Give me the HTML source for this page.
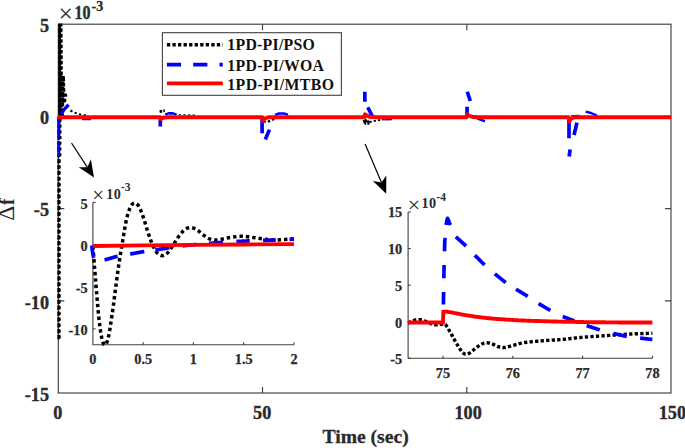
<!DOCTYPE html>
<html><head><meta charset="utf-8"><title>Frequency deviation</title>
<style>html,body{margin:0;padding:0;background:#fff}body{width:685px;height:448px;overflow:hidden}</style></head>
<body>
<svg width="685" height="448" viewBox="0 0 685 448" style="display:block">
<rect width="685" height="448" fill="#fff"/>
<defs><clipPath id="cm"><rect x="57.3" y="23.6" width="614.3" height="370.0"/></clipPath></defs>
<g stroke="#404040" stroke-width="1.15" fill="none">
<rect x="58.3" y="24.2" width="612.7" height="368.8"/>
<path d="M262.5 393.0 v-6 M262.5 24.2 v6"/>
<path d="M466.8 393.0 v-6 M466.8 24.2 v6"/>
<path d="M58.3 116.4 h6 M671.0 116.4 h-6"/>
<path d="M58.3 208.6 h6 M671.0 208.6 h-6"/>
<path d="M58.3 300.8 h6 M671.0 300.8 h-6"/>
</g>
<g clip-path="url(#cm)" fill="none" stroke-linejoin="round">
<clipPath id="cu"><rect x="50" y="20" width="60" height="98.7"/></clipPath>
<path d="M59.7 24.2 V117.2" stroke="#000" stroke-width="2.6"/>
<path d="M58.60 117.20 L58.63 135.84 L58.66 154.61 L58.69 173.25 L58.72 191.52 L58.75 209.38 L58.78 227.45 L58.81 245.14 L58.84 261.65 L58.87 276.18 L58.90 288.70 L58.93 299.65 L58.96 309.05 L58.99 316.94 L59.02 323.33 L59.04 328.13 L59.07 331.44 L59.10 333.34 L59.13 333.91 L59.16 332.95 L59.19 330.56 L59.22 326.94 L59.25 322.28 L59.28 316.64 L59.31 309.54 L59.34 301.25 L59.37 292.08 L59.40 282.36 L59.43 272.42 L59.46 262.38 L59.49 251.66 L59.52 240.43 L59.55 228.94 L59.58 217.45 L59.61 206.22 L59.64 195.35 L59.67 184.43 L59.70 173.56 L59.73 162.88 L59.76 152.56 L59.79 142.75 L59.82 133.60 L59.85 125.00 L59.88 116.55 L59.91 107.83 L59.93 98.70 L59.96 89.47 L59.99 80.44 L60.02 71.92 L60.05 64.22 L60.08 57.52 L60.11 51.53 L60.14 46.17 L60.17 41.40 L60.20 37.17 L60.23 33.45 L60.26 30.24 L60.29 27.63 L60.32 25.60 L60.35 24.09 L60.38 23.05 L60.41 22.44 L60.44 22.19 L60.47 22.28 L60.50 22.75 L60.53 23.63 L60.56 24.93 L60.59 26.61 L60.62 28.68 L60.65 31.13 L60.68 34.10 L60.71 37.54 L60.74 41.34 L60.77 45.38 L60.80 49.54 L60.82 53.71 L60.85 58.11 L60.88 62.78 L60.91 67.62 L60.94 72.53 L60.97 77.42 L61.00 82.18 L61.03 86.72 L61.06 91.05 L61.09 95.36 L61.12 99.61 L61.15 103.75 L61.18 107.72 L61.21 111.48 L61.24 114.96 L61.27 118.12 L61.30 121.02 L61.33 123.69 L61.36 126.14 L61.39 128.35 L61.42 130.33 L61.45 132.07 L61.48 133.56 L61.51 134.80 L61.54 135.78 L61.57 136.52 L61.60 137.04 L61.63 137.35 L61.66 137.48 L61.68 137.41 L61.71 137.11 L61.74 136.60 L61.77 135.90 L61.80 135.01 L61.83 133.96 L61.86 132.77 L61.89 131.44 L61.92 129.86 L61.95 128.05 L61.98 126.05 L62.01 123.91 L62.04 121.67 L62.07 119.38 L62.10 117.08 L62.13 114.83 L62.16 112.64 L62.19 110.38 L62.22 108.05 L62.25 105.67 L62.28 103.28 L62.31 100.92 L62.34 98.62 L62.37 96.42 L62.40 94.34 L62.43 92.41 L62.46 90.55 L62.49 88.74 L62.52 87.01 L62.55 85.36 L62.57 83.81 L62.60 82.38 L62.63 81.09 L62.66 79.95 L62.69 78.97 L62.72 78.12 L62.75 77.41 L62.78 76.82 L62.81 76.36 L62.84 76.02 L62.87 75.81 L62.90 75.71 L62.93 75.76 L62.96 75.97 L62.99 76.32 L63.02 76.80 L63.05 77.37 L63.08 78.03 L63.11 78.76 L63.14 79.53 L63.17 80.33 L63.20 81.21 L63.23 82.22 L63.26 83.33 L63.29 84.51 L63.32 85.75 L63.35 87.01 L63.38 88.28 L63.41 89.52 L63.44 90.71 L63.46 91.83 L63.49 92.87 L63.52 93.92 L63.55 94.96 L63.58 95.99 L63.61 96.99 L63.64 97.94 L63.67 98.83 L63.70 99.63 L63.73 100.34 L63.76 100.94 L63.79 101.46 L63.82 101.89 L63.85 102.26 L63.88 102.56 L63.91 102.79 L63.94 102.98 L63.97 103.12 L64.00 103.21 L64.03 103.23 L64.06 103.16 L64.09 103.04 L64.12 102.86 L64.15 102.64 L64.18 102.39 L64.21 102.13 L64.24 101.86 L64.27 101.61 L64.30 101.37 L64.33 101.10 L64.35 100.81 L64.38 100.49 L64.41 100.16 L64.44 99.82 L64.47 99.48 L64.50 99.14 L64.53 98.80 L64.56 98.49 L64.59 98.19 L64.62 97.92 L64.65 97.67 L64.68 97.43 L64.71 97.20 L64.74 96.97 L64.77 96.75 L64.80 96.53 L64.83 96.33 L64.86 96.14 L64.89 95.96 L64.92 95.80 L64.95 95.64 L64.98 95.51 L65.01 95.39 L65.04 95.29 L65.07 95.20 L65.10 95.14 L65.13 95.09 L65.16 95.07 L65.19 95.07 L65.21 95.10 L65.24 95.16 L65.27 95.24 L65.30 95.35 L65.33 95.48 L65.36 95.63 L65.39 95.80 L65.42 95.98 L65.45 96.17 L65.48 96.37 L65.51 96.57 L65.54 96.78 L65.57 97.00 L65.60 97.21 L65.63 97.41 L65.66 97.61 L65.69 97.80 L65.72 97.99 L65.75 98.18 L65.78 98.39" stroke="#000" stroke-width="3.8" stroke-dasharray="3.4 2.0" clip-path="url(#cu)"/>
<path d="M58.5 120.2 V337.2" stroke="#000" stroke-width="4.8" stroke-linecap="round" stroke-dasharray="0.01 5.85"/>
<path d="M70.40 110.50 L74.00 112.40 L79.00 114.20 L86.50 115.60" stroke="#000" stroke-width="2" stroke-dasharray="2.3 2.4"/>
<path d="M159.60 111.60 L164.80 110.60" stroke="#000" stroke-width="2.6" stroke-dasharray="2.6 1.2"/>
<path d="M165.00 113.60 L180.00 114.80 L196.00 115.20" stroke="#000" stroke-width="1.3" stroke-dasharray="2.2 2.4"/>
<path d="M263.50 121.20 L266.50 122.20 L272.00 120.00 L279.00 116.60" stroke="#000" stroke-width="2.2" stroke-dasharray="2.4 2.2"/>
<path d="M364.40 119.60 L366.00 122.80 L369.50 122.40" stroke="#000" stroke-width="4.2" stroke-dasharray="3.6 1.2"/>
<path d="M369.50 122.00 L376.00 120.60 L386.00 119.20" stroke="#000" stroke-width="1.8" stroke-dasharray="2.3 2"/>
<path d="M571.00 115.60 L579.50 115.30" stroke="#333" stroke-width="1.2"/>
<path d="M58.60 118.00 L58.40 138.60" stroke="#0000ff" stroke-width="4.0"/>
<path d="M58.30 141.20 L58.20 156.20" stroke="#0000ff" stroke-width="4.0"/>
<path d="M60.70 119.00 L60.50 157.00" stroke="#000" stroke-width="1.8" stroke-dasharray="2.8 2.9"/>
<path d="M61.40 113.80 L64.00 109.60 L68.60 104.80" stroke="#0000ff" stroke-width="3.4"/>
<path d="M82.00 119.40 L91.00 119.40" stroke="#0000ff" stroke-width="1.6"/>
<path d="M160.30 117.00 L160.30 126.60" stroke="#0000ff" stroke-width="3.7"/>
<path d="M165.50 114.60 L169.00 113.20 L173.00 113.30 L176.50 114.60" stroke="#0000ff" stroke-width="2.4"/>
<path d="M262.10 118.00 L262.10 133.30" stroke="#0000ff" stroke-width="3.7"/>
<path d="M265.30 139.50 L269.50 129.60" stroke="#0000ff" stroke-width="3.7"/>
<path d="M275.00 114.90 L279.00 113.50 L284.00 113.40 L288.00 114.80" stroke="#0000ff" stroke-width="2.4"/>
<path d="M364.80 91.80 L364.90 101.80" stroke="#0000ff" stroke-width="3.7"/>
<path d="M367.80 107.20 L372.30 116.40" stroke="#0000ff" stroke-width="3.7"/>
<path d="M384.70 119.60 L392.00 119.40" stroke="#0000ff" stroke-width="1.6"/>
<path d="M467.30 91.80 L470.30 101.00" stroke="#0000ff" stroke-width="3.7"/>
<path d="M467.10 106.70 L467.00 117.00" stroke="#0000ff" stroke-width="3.7"/>
<path d="M474.50 116.60 L479.00 119.00 L485.00 121.40" stroke="#0000ff" stroke-width="2.6"/>
<path d="M569.00 120.00 L569.00 138.20" stroke="#0000ff" stroke-width="3.7"/>
<path d="M570.10 149.40 L569.20 156.40" stroke="#0000ff" stroke-width="3.7"/>
<path d="M574.00 135.00 L577.00 122.60" stroke="#0000ff" stroke-width="3.7"/>
<path d="M585.70 111.70 L591.00 113.00 L597.00 115.60" stroke="#0000ff" stroke-width="2.4"/>
<path d="M57.30 117.20 L160.31 117.20 L160.72 119.41 L162.76 117.75 L166.84 117.20 L262.42 117.20 L262.83 120.89 L264.88 118.31 L268.96 117.20 L364.54 117.20 L364.95 114.25 L367.40 115.91 L371.08 117.02 L377.20 117.20 L466.66 117.20 L467.07 114.25 L469.52 115.91 L473.19 117.02 L479.32 117.20 L568.77 117.20 L569.18 121.26 L571.23 118.49 L575.31 117.20 L671.30 117.20" stroke="#ff0000" stroke-width="3.9"/>
</g>
<g font-family="Liberation Serif, serif" font-weight="bold" fill="#2a2a2a" stroke="#2a2a2a" stroke-width="0.35" font-size="18.2">
<text x="57.8" y="419.3" text-anchor="middle">0</text>
<text x="262.2" y="419.3" text-anchor="middle">50</text>
<text x="468.1" y="419.3" text-anchor="middle">100</text>
<text x="672.4" y="419.3" text-anchor="middle">150</text>
<text x="49" y="31.9" text-anchor="end">5</text>
<text x="49" y="124.1" text-anchor="end">0</text>
<text x="49" y="216.3" text-anchor="end">-5</text>
<text x="49" y="308.5" text-anchor="end">-10</text>
<text x="49" y="400.7" text-anchor="end">-15</text>
</g>
<text font-family="Liberation Serif, serif" font-weight="bold" fill="#2a2a2a" stroke="#2a2a2a" stroke-width="0.3" font-size="19.6" x="365.6" y="443.2" text-anchor="middle">Time (sec)</text>
<text font-family="Liberation Serif, serif" fill="#2a2a2a" transform="translate(14.3 220.7) rotate(-90)"><tspan font-size="23.5">Δ</tspan><tspan font-weight="bold" font-size="20" dx="0.6">f</tspan></text>
<text font-family="Liberation Serif, serif" fill="#2a2a2a" font-size="25.5" x="58.4" y="22.4">×</text>
<text font-family="Liberation Serif, serif" fill="#2a2a2a" font-weight="bold" stroke="#2a2a2a" stroke-width="0.4" font-size="18.5" x="74.4" y="18.8" textLength="16" lengthAdjust="spacingAndGlyphs">10</text>
<text font-family="Liberation Serif, serif" fill="#2a2a2a" font-weight="bold" stroke="#2a2a2a" stroke-width="0.3" font-size="14" x="91.6" y="11">-3</text>
<rect x="162.4" y="32.7" width="179" height="62.6" fill="#fff" stroke="#404040" stroke-width="1.1"/>
<path d="M166.9 44.7 H222.8" stroke="#000" stroke-width="3.4" stroke-dasharray="3.3 2.25" fill="none"/>
<path d="M166.9 64.7 H222.8" stroke="#0000ff" stroke-width="3.7" stroke-dasharray="14.2 12.1" fill="none"/>
<path d="M166.9 83.4 H222.8" stroke="#ff0000" stroke-width="3.9" fill="none"/>
<g font-family="Liberation Serif, serif" font-weight="bold" fill="#111" font-size="15.8">
<text x="227.3" y="50.4" textLength="87.6" lengthAdjust="spacing">1PD-PI/PSO</text>
<text x="227.3" y="70.8" textLength="96.7" lengthAdjust="spacing">1PD-PI/WOA</text>
<text x="227.3" y="90.1" textLength="106.7" lengthAdjust="spacing">1PD-PI/MTBO</text>
</g>
<path d="M71.5 143.0 L87.4 167.3" stroke="#000" stroke-width="1.2" fill="none"/><path d="M94.0 177.4 L78.7 167.3 L87.4 167.3 L90.9 159.3 Z" fill="#000"/>
<path d="M365.1 144.1 L381.5 182.6" stroke="#000" stroke-width="1.2" fill="none"/><path d="M386.2 193.7 L372.9 181.1 L381.5 182.6 L386.3 175.4 Z" fill="#000"/>
<g stroke="#404040" stroke-width="1.1" fill="none">
<path d="M92.9 202.4 V344.7 H294.0"/>
<path d="M143.2 344.7 v-2.5"/>
<path d="M193.4 344.7 v-2.5"/>
<path d="M243.7 344.7 v-2.5"/>
<path d="M294.0 344.7 v-2.5"/>
<path d="M92.9 202.4 h2.7"/>
<path d="M92.9 244.6 h2.7"/>
<path d="M92.9 286.7 h2.7"/>
<path d="M92.9 328.9 h2.7"/>
</g>
<g fill="none" stroke-linejoin="round">
<path d="M92.90 246.40 L93.30 251.48 L93.71 256.59 L94.11 261.71 L94.51 266.82 L94.92 271.90 L95.32 276.91 L95.72 281.85 L96.12 286.70 L96.53 291.62 L96.93 296.56 L97.33 301.43 L97.74 306.16 L98.14 310.68 L98.54 314.90 L98.95 318.75 L99.35 322.26 L99.75 325.51 L100.15 328.50 L100.56 331.24 L100.96 333.73 L101.36 335.97 L101.77 337.97 L102.17 339.72 L102.57 341.21 L102.98 342.45 L103.38 343.44 L103.78 344.19 L104.18 344.72 L104.59 345.03 L104.99 345.12 L105.39 344.95 L105.80 344.53 L106.20 343.89 L106.60 343.04 L107.01 342.00 L107.41 340.78 L107.81 339.42 L108.21 337.90 L108.62 336.13 L109.02 334.13 L109.42 331.93 L109.83 329.57 L110.23 327.07 L110.63 324.47 L111.04 321.80 L111.44 319.09 L111.84 316.37 L112.24 313.65 L112.65 310.81 L113.05 307.85 L113.45 304.81 L113.86 301.71 L114.26 298.57 L114.66 295.43 L115.07 292.30 L115.47 289.21 L115.87 286.18 L116.27 283.22 L116.68 280.25 L117.08 277.27 L117.48 274.29 L117.89 271.33 L118.29 268.42 L118.69 265.55 L119.10 262.75 L119.50 260.03 L119.90 257.41 L120.30 254.90 L120.71 252.50 L121.11 250.17 L121.51 247.87 L121.92 245.55 L122.32 243.18 L122.72 240.73 L123.13 238.23 L123.53 235.70 L123.93 233.19 L124.33 230.72 L124.74 228.31 L125.14 226.01 L125.54 223.84 L125.95 221.83 L126.35 219.99 L126.75 218.27 L127.16 216.66 L127.56 215.15 L127.96 213.75 L128.36 212.43 L128.77 211.21 L129.17 210.08 L129.57 209.02 L129.98 208.05 L130.38 207.16 L130.78 206.37 L131.19 205.68 L131.59 205.08 L131.99 204.58 L132.39 204.15 L132.80 203.81 L133.20 203.54 L133.60 203.34 L134.01 203.21 L134.41 203.14 L134.81 203.12 L135.22 203.15 L135.62 203.25 L136.02 203.41 L136.42 203.64 L136.83 203.94 L137.23 204.31 L137.63 204.74 L138.04 205.23 L138.44 205.79 L138.84 206.40 L139.25 207.08 L139.65 207.85 L140.05 208.70 L140.45 209.63 L140.86 210.63 L141.26 211.67 L141.66 212.76 L142.07 213.88 L142.47 215.01 L142.87 216.15 L143.28 217.28 L143.68 218.46 L144.08 219.69 L144.48 220.96 L144.89 222.26 L145.29 223.58 L145.69 224.92 L146.10 226.26 L146.50 227.60 L146.90 228.92 L147.31 230.22 L147.71 231.48 L148.11 232.69 L148.51 233.87 L148.92 235.06 L149.32 236.23 L149.72 237.40 L150.13 238.55 L150.53 239.69 L150.93 240.80 L151.34 241.88 L151.74 242.92 L152.14 243.93 L152.54 244.89 L152.95 245.80 L153.35 246.65 L153.75 247.46 L154.16 248.24 L154.56 248.98 L154.96 249.68 L155.37 250.34 L155.77 250.96 L156.17 251.55 L156.57 252.10 L156.98 252.61 L157.38 253.08 L157.78 253.51 L158.19 253.90 L158.59 254.24 L158.99 254.55 L159.40 254.81 L159.80 255.04 L160.20 255.22 L160.61 255.37 L161.01 255.48 L161.41 255.57 L161.81 255.62 L162.22 255.64 L162.62 255.63 L163.02 255.58 L163.43 255.50 L163.83 255.38 L164.23 255.22 L164.64 255.04 L165.04 254.82 L165.44 254.58 L165.84 254.31 L166.25 254.01 L166.65 253.69 L167.05 253.35 L167.46 252.98 L167.86 252.58 L168.26 252.13 L168.67 251.64 L169.07 251.12 L169.47 250.57 L169.87 250.00 L170.28 249.41 L170.68 248.80 L171.08 248.18 L171.49 247.55 L171.89 246.93 L172.29 246.30 L172.70 245.68 L173.10 245.08 L173.50 244.48 L173.90 243.88 L174.31 243.25 L174.71 242.62 L175.11 241.98 L175.52 241.33 L175.92 240.67 L176.32 240.02 L176.73 239.38 L177.13 238.74 L177.53 238.11 L177.93 237.50 L178.34 236.90 L178.74 236.33 L179.14 235.78 L179.55 235.26 L179.95 234.74 L180.35 234.24 L180.76 233.74 L181.16 233.26 L181.56 232.78 L181.96 232.32 L182.37 231.88 L182.77 231.45 L183.17 231.04 L183.58 230.65 L183.98 230.28 L184.38 229.94 L184.79 229.62 L185.19 229.33 L185.59 229.06 L185.99 228.82 L186.40 228.59 L186.80 228.39 L187.20 228.21 L187.61 228.05 L188.01 227.91 L188.41 227.79 L188.82 227.70 L189.22 227.62 L189.62 227.56 L190.02 227.52 L190.43 227.50 L190.83 227.50 L191.23 227.54 L191.64 227.59 L192.04 227.68 L192.44 227.78 L192.85 227.90 L193.25 228.04 L193.65 228.20 L194.05 228.37 L194.46 228.56 L194.86 228.75 L195.26 228.96 L195.67 229.17 L196.07 229.38 L196.47 229.60 L196.88 229.84 L197.28 230.09 L197.68 230.36 L198.08 230.66 L198.49 230.96 L198.89 231.28 L199.29 231.61 L199.70 231.95 L200.10 232.30 L200.50 232.64 L200.91 232.99 L201.31 233.33 L201.71 233.67 L202.11 234.00 L202.52 234.33 L202.92 234.64 L203.32 234.93 L203.73 235.21 L204.13 235.50 L204.53 235.78 L204.94 236.07 L205.34 236.35 L205.74 236.64 L206.14 236.91 L206.55 237.18 L206.95 237.44 L207.35 237.70 L207.76 237.94 L208.16 238.17 L208.56 238.39 L208.97 238.59 L209.37 238.77 L209.77 238.93 L210.17 239.08 L210.58 239.22 L210.98 239.34 L211.38 239.46 L211.79 239.56 L212.19 239.65 L212.59 239.72 L213.00 239.79 L213.40 239.85 L213.80 239.90 L214.20 239.95 L214.61 239.98 L215.01 240.01 L215.41 240.03 L215.82 240.04 L216.22 240.03 L216.62 240.01 L217.03 239.98 L217.43 239.94 L217.83 239.89 L218.23 239.83 L218.64 239.77 L219.04 239.70 L219.44 239.64 L219.85 239.56 L220.25 239.49 L220.65 239.42 L221.06 239.35 L221.46 239.28 L221.86 239.22 L222.26 239.15 L222.67 239.07 L223.07 238.99 L223.47 238.91 L223.88 238.83 L224.28 238.74 L224.68 238.65 L225.09 238.55 L225.49 238.46 L225.89 238.37 L226.29 238.27 L226.70 238.18 L227.10 238.09 L227.50 238.00 L227.91 237.91 L228.31 237.83 L228.71 237.75 L229.12 237.67 L229.52 237.60 L229.92 237.53 L230.33 237.47 L230.73 237.40 L231.13 237.34 L231.53 237.27 L231.94 237.21 L232.34 237.15 L232.74 237.09 L233.15 237.03 L233.55 236.98 L233.95 236.92 L234.36 236.87 L234.76 236.81 L235.16 236.76 L235.56 236.72 L235.97 236.67 L236.37 236.63 L236.77 236.59 L237.18 236.55 L237.58 236.51 L237.98 236.48 L238.39 236.45 L238.79 236.42 L239.19 236.40 L239.59 236.38 L240.00 236.36 L240.40 236.34 L240.80 236.33 L241.21 236.32 L241.61 236.32 L242.01 236.32 L242.42 236.32 L242.82 236.33 L243.22 236.34 L243.62 236.36 L244.03 236.38 L244.43 236.41 L244.83 236.44 L245.24 236.48 L245.64 236.51 L246.04 236.55 L246.45 236.60 L246.85 236.64 L247.25 236.69 L247.65 236.74 L248.06 236.79 L248.46 236.84 L248.86 236.90 L249.27 236.96 L249.67 237.01 L250.07 237.07 L250.48 237.13 L250.88 237.19 L251.28 237.24 L251.68 237.30 L252.09 237.36 L252.49 237.41 L252.89 237.47 L253.30 237.52 L253.70 237.57 L254.10 237.62 L254.51 237.67 L254.91 237.73 L255.31 237.78 L255.71 237.84 L256.12 237.90 L256.52 237.95 L256.92 238.01 L257.33 238.07 L257.73 238.13 L258.13 238.19 L258.54 238.26 L258.94 238.32 L259.34 238.38 L259.74 238.44 L260.15 238.50 L260.55 238.56 L260.95 238.62 L261.36 238.68 L261.76 238.74 L262.16 238.80 L262.57 238.86 L262.97 238.91 L263.37 238.97 L263.77 239.02 L264.18 239.07 L264.58 239.12 L264.98 239.17 L265.39 239.21 L265.79 239.25 L266.19 239.30 L266.60 239.34 L267.00 239.38 L267.40 239.42 L267.80 239.47 L268.21 239.51 L268.61 239.55 L269.01 239.59 L269.42 239.63 L269.82 239.67 L270.22 239.71 L270.63 239.74 L271.03 239.78 L271.43 239.81 L271.83 239.84 L272.24 239.87 L272.64 239.90 L273.04 239.92 L273.45 239.95 L273.85 239.97 L274.25 239.98 L274.66 240.00 L275.06 240.01 L275.46 240.01 L275.86 240.02 L276.27 240.02 L276.67 240.01 L277.07 240.00 L277.48 239.99 L277.88 239.97 L278.28 239.95 L278.69 239.93 L279.09 239.90 L279.49 239.87 L279.89 239.84 L280.30 239.81 L280.70 239.77 L281.10 239.74 L281.51 239.71 L281.91 239.67 L282.31 239.64 L282.72 239.60 L283.12 239.57 L283.52 239.54 L283.92 239.51 L284.33 239.49 L284.73 239.46 L285.13 239.43 L285.54 239.41 L285.94 239.38 L286.34 239.35 L286.75 239.32 L287.15 239.30 L287.55 239.27 L287.95 239.24 L288.36 239.22 L288.76 239.19 L289.16 239.16 L289.57 239.14 L289.97 239.11 L290.37 239.08 L290.78 239.06 L291.18 239.03 L291.58 239.00 L291.98 238.97 L292.39 238.95 L292.79 238.92 L293.19 238.89 L293.60 238.87 L294.00 238.84" stroke="#000" stroke-width="3.5" stroke-dasharray="3.4 3.0"/>
<path d="M91.69 245.56 L91.73 245.82 L91.76 246.07 L91.80 246.33 L91.83 246.58 L91.87 246.84 L91.90 247.09 L91.94 247.35 L91.97 247.61 L92.01 247.86 L92.04 248.12 L92.08 248.37 L92.11 248.63 L92.15 248.88 L92.18 249.14 L92.22 249.39 L92.25 249.65 L92.29 249.91 L92.32 250.16 L92.36 250.42 L92.39 250.67 L92.43 250.93 L92.46 251.18 L92.50 251.44 L92.55 251.70 L92.59 251.95 L92.64 252.21 L92.69 252.46 L92.74 252.72 L92.79 252.97 L92.84 253.23 L92.88 253.48 L92.93 253.74 L92.98 253.99 L93.03 254.25 L93.08 254.50 L93.13 254.76 L93.17 255.02 L93.22 255.27 L93.27 255.53 L93.32 255.78 L93.37 256.04 L93.41 256.29 L93.46 256.55 L93.51 256.80 L93.56 257.06 L93.61 257.31 L93.66 257.57 L93.70 257.82 M104.52 259.81 L104.78 259.76 L105.03 259.71 L105.28 259.66 L105.53 259.60 L105.78 259.55 L106.03 259.49 L106.29 259.43 L106.54 259.37 L106.79 259.31 L107.04 259.24 L107.29 259.18 L107.54 259.11 L107.80 259.05 L108.05 258.97 L108.30 258.90 L108.55 258.83 L108.80 258.76 L109.05 258.69 L109.31 258.61 L109.56 258.54 L109.81 258.46 L110.06 258.39 L110.31 258.31 L110.56 258.23 L110.82 258.16 L111.07 258.08 L111.32 258.00 L111.57 257.92 L111.82 257.85 L112.07 257.77 L112.32 257.69 L112.58 257.62 L112.83 257.54 L113.08 257.46 L113.33 257.39 L113.58 257.31 L113.83 257.24 L114.09 257.17 L114.34 257.10 L114.59 257.02 L114.84 256.95 L115.09 256.88 L115.34 256.82 L115.60 256.75 L115.85 256.68 L116.10 256.62 L116.35 256.56 L116.60 256.50 L116.85 256.44 L117.11 256.38 L117.36 256.33 L117.61 256.27 M130.19 254.06 L130.44 254.01 L130.69 253.97 L130.95 253.92 L131.20 253.88 L131.45 253.83 L131.70 253.78 L131.95 253.74 L132.20 253.69 L132.46 253.65 L132.71 253.60 L132.96 253.55 L133.21 253.51 L133.46 253.46 L133.71 253.41 L133.96 253.36 L134.22 253.32 L134.47 253.27 L134.72 253.22 L134.97 253.18 L135.22 253.13 L135.47 253.08 L135.73 253.03 L135.98 252.99 L136.23 252.94 L136.48 252.89 L136.73 252.85 L136.98 252.80 L137.24 252.75 L137.49 252.71 L137.74 252.66 L137.99 252.61 L138.24 252.57 L138.49 252.52 L138.75 252.47 L139.00 252.43 L139.25 252.38 L139.50 252.34 L139.75 252.29 L140.00 252.24 L140.26 252.20 L140.51 252.15 L140.76 252.11 L141.01 252.06 L141.26 252.02 L141.51 251.98 L141.77 251.93 L142.02 251.89 L142.27 251.85 L142.52 251.80 L142.77 251.76 L143.02 251.72 L143.28 251.68 L143.53 251.63 L143.78 251.59 L144.03 251.55 L144.28 251.51 M155.35 249.85 L155.60 249.82 L155.86 249.78 L156.11 249.74 L156.36 249.70 L156.61 249.67 L156.86 249.63 L157.11 249.59 L157.37 249.55 L157.62 249.52 L157.87 249.48 L158.12 249.44 L158.37 249.41 L158.62 249.37 L158.88 249.33 L159.13 249.29 L159.38 249.26 L159.63 249.22 L159.88 249.18 L160.13 249.15 L160.39 249.11 L160.64 249.07 L160.89 249.03 L161.14 249.00 L161.39 248.96 L161.64 248.92 L161.90 248.89 L162.15 248.85 L162.40 248.81 L162.65 248.78 L162.90 248.74 L163.15 248.70 L163.41 248.67 L163.66 248.63 L163.91 248.59 L164.16 248.55 L164.41 248.52 L164.66 248.48 L164.92 248.44 L165.17 248.41 L165.42 248.37 L165.67 248.33 L165.92 248.30 L166.17 248.26 L166.42 248.22 L166.68 248.19 L166.93 248.15 L167.18 248.11 L167.43 248.08 L167.68 248.04 L167.93 248.00 L168.19 247.97 L168.44 247.93 L168.69 247.90 L168.94 247.86 L169.19 247.82 L169.44 247.79 M182.53 245.87 L182.78 245.84 L183.03 245.80 L183.28 245.77 L183.54 245.74 L183.79 245.71 L184.04 245.68 L184.29 245.65 L184.54 245.62 L184.79 245.59 L185.05 245.56 L185.30 245.53 L185.55 245.50 L185.80 245.47 L186.05 245.44 L186.30 245.41 L186.55 245.38 L186.81 245.36 L187.06 245.33 L187.31 245.30 L187.56 245.28 L187.81 245.25 L188.06 245.22 L188.32 245.20 L188.57 245.17 L188.82 245.15 L189.07 245.12 L189.32 245.10 L189.57 245.07 L189.83 245.05 L190.08 245.03 L190.33 245.00 L190.58 244.98 L190.83 244.96 L191.08 244.93 L191.34 244.91 L191.59 244.89 L191.84 244.86 L192.09 244.84 L192.34 244.82 L192.59 244.80 L192.85 244.78 L193.10 244.75 L193.35 244.73 L193.60 244.71 L193.85 244.69 L194.10 244.67 L194.36 244.65 L194.61 244.63 L194.86 244.60 L195.11 244.58 L195.36 244.56 L195.61 244.54 L195.87 244.52 L196.12 244.50 L196.37 244.48 L196.62 244.46 M208.95 243.42 L209.20 243.40 L209.45 243.38 L209.70 243.36 L209.96 243.34 L210.21 243.32 L210.46 243.30 L210.71 243.28 L210.96 243.26 L211.21 243.24 L211.47 243.22 L211.72 243.20 L211.97 243.18 L212.22 243.16 L212.47 243.14 L212.72 243.12 L212.98 243.10 L213.23 243.08 L213.48 243.06 L213.73 243.04 L213.98 243.02 L214.23 243.00 L214.49 242.98 L214.74 242.97 L214.99 242.95 L215.24 242.93 L215.49 242.91 L215.74 242.89 L216.00 242.87 L216.25 242.85 L216.50 242.83 L216.75 242.81 L217.00 242.79 L217.25 242.77 L217.51 242.76 L217.76 242.74 L218.01 242.72 L218.26 242.70 L218.51 242.68 L218.76 242.66 L219.01 242.64 L219.27 242.63 L219.52 242.61 L219.77 242.59 L220.02 242.57 L220.27 242.55 L220.52 242.53 L220.78 242.52 L221.03 242.50 L221.28 242.48 L221.53 242.46 L221.78 242.44 L222.03 242.43 L222.29 242.41 L222.54 242.39 L222.79 242.37 L223.04 242.36 M236.38 241.51 L236.63 241.49 L236.88 241.48 L237.13 241.47 L237.38 241.45 L237.64 241.44 L237.89 241.42 L238.14 241.41 L238.39 241.40 L238.64 241.38 L238.89 241.37 L239.15 241.36 L239.40 241.34 L239.65 241.33 L239.90 241.32 L240.15 241.30 L240.40 241.29 L240.65 241.28 L240.91 241.26 L241.16 241.25 L241.41 241.24 L241.66 241.22 L241.91 241.21 L242.16 241.20 L242.42 241.19 L242.67 241.17 L242.92 241.16 L243.17 241.15 L243.42 241.14 L243.67 241.13 L243.93 241.11 L244.18 241.10 L244.43 241.09 L244.68 241.08 L244.93 241.07 L245.18 241.06 L245.44 241.05 L245.69 241.04 L245.94 241.03 L246.19 241.02 L246.44 241.00 L246.69 240.99 L246.95 240.98 L247.20 240.97 L247.45 240.96 L247.70 240.95 L247.95 240.94 L248.20 240.93 L248.46 240.92 L248.71 240.91 L248.96 240.90 L249.21 240.90 L249.46 240.89 L249.71 240.88 M263.05 240.44 L263.30 240.43 L263.55 240.43 L263.80 240.42 L264.06 240.41 L264.31 240.40 L264.56 240.39 L264.81 240.38 L265.06 240.38 L265.31 240.37 L265.57 240.36 L265.82 240.35 L266.07 240.34 L266.32 240.33 L266.57 240.32 L266.82 240.32 L267.08 240.31 L267.33 240.30 L267.58 240.29 L267.83 240.28 L268.08 240.27 L268.33 240.26 L268.59 240.25 L268.84 240.24 L269.09 240.23 L269.34 240.22 L269.59 240.21 L269.84 240.20 L270.10 240.19 L270.35 240.18 L270.60 240.17 L270.85 240.16 L271.10 240.15 L271.35 240.14 L271.61 240.13 L271.86 240.12 L272.11 240.11 L272.36 240.10 L272.61 240.09 L272.86 240.08 L273.11 240.07 L273.37 240.06 L273.62 240.05 L273.87 240.04 L274.12 240.03 L274.37 240.02 L274.62 240.01 L274.88 240.00 L275.13 239.99 L275.38 239.98 L275.63 239.97 L275.88 239.96 M289.47 239.37 L289.72 239.36 L289.97 239.35 L290.23 239.34 L290.48 239.33 L290.73 239.32 L290.98 239.31 L291.23 239.29 L291.48 239.28 L291.74 239.27 L291.99 239.26 L292.24 239.25 L292.49 239.24 L292.74 239.23 L292.99 239.22 L293.25 239.21 L293.50 239.20 L293.75 239.19 L294.00 239.18" stroke="#0000ff" stroke-width="3.7"/>
<path d="M92.90 245.98 L143.18 245.39 L193.45 244.89 L243.72 244.47 L294.00 244.13" stroke="#ff0000" stroke-width="3.9"/>
</g>
<g font-family="Liberation Serif, serif" font-weight="bold" fill="#2a2a2a" stroke="#2a2a2a" stroke-width="0.25" font-size="14.3">
<text x="92.9" y="364.2" text-anchor="middle">0</text>
<text x="143.2" y="364.2" text-anchor="middle">0.5</text>
<text x="193.4" y="364.2" text-anchor="middle">1</text>
<text x="243.7" y="364.2" text-anchor="middle">1.5</text>
<text x="294.0" y="364.2" text-anchor="middle">2</text>
<text x="87.6" y="208.5" text-anchor="end">5</text>
<text x="87.6" y="250.7" text-anchor="end">0</text>
<text x="87.6" y="292.8" text-anchor="end">-5</text>
<text x="87.6" y="334.9" text-anchor="end">-10</text>
</g>
<text font-family="Liberation Serif, serif" fill="#2a2a2a" font-size="21" x="92.2" y="201.6">×</text>
<text font-family="Liberation Serif, serif" fill="#2a2a2a" font-weight="bold" font-size="14.2" x="106.3" y="198.5" letter-spacing="0.3">10</text>
<text font-family="Liberation Serif, serif" fill="#2a2a2a" font-weight="bold" font-size="11.5" x="121" y="191.4">-3</text>
<g stroke="#404040" stroke-width="1.1" fill="none">
<path d="M408.1 212.0 V358.3 H652.4"/>
<path d="M443.0 358.3 v-2.5"/>
<path d="M512.8 358.3 v-2.5"/>
<path d="M582.6 358.3 v-2.5"/>
<path d="M652.4 358.3 v-2.5"/>
<path d="M408.1 212.0 h2.7"/>
<path d="M408.1 248.5 h2.7"/>
<path d="M408.1 285.1 h2.7"/>
<path d="M408.1 321.7 h2.7"/>
<path d="M408.1 358.3 h2.7"/>
</g>
<g fill="none" stroke-linejoin="round">
<path d="M408.10 322.94 L408.59 322.72 L409.08 322.50 L409.57 322.26 L410.06 322.03 L410.55 321.79 L411.04 321.55 L411.53 321.31 L412.02 321.08 L412.51 320.86 L413.00 320.66 L413.49 320.47 L413.97 320.30 L414.46 320.15 L414.95 320.02 L415.44 319.92 L415.93 319.84 L416.42 319.76 L416.91 319.71 L417.40 319.66 L417.89 319.64 L418.38 319.62 L418.87 319.62 L419.36 319.64 L419.85 319.67 L420.34 319.71 L420.83 319.77 L421.32 319.85 L421.81 319.94 L422.30 320.05 L422.79 320.19 L423.28 320.35 L423.77 320.53 L424.26 320.73 L424.75 320.94 L425.24 321.15 L425.72 321.38 L426.21 321.60 L426.70 321.81 L427.19 322.02 L427.68 322.22 L428.17 322.41 L428.66 322.61 L429.15 322.83 L429.64 323.04 L430.13 323.26 L430.62 323.48 L431.11 323.69 L431.60 323.89 L432.09 324.08 L432.58 324.25 L433.07 324.41 L433.56 324.55 L434.05 324.67 L434.54 324.76 L435.03 324.82 L435.52 324.85 L436.01 324.85 L436.50 324.84 L436.99 324.80 L437.47 324.75 L437.96 324.70 L438.45 324.63 L438.94 324.57 L439.43 324.51 L439.92 324.46 L440.41 324.43 L440.90 324.41 L441.39 324.36 L441.88 324.27 L442.37 324.16 L442.86 324.05 L443.35 323.98 L443.84 323.97 L444.33 324.05 L444.82 324.24 L445.31 324.57 L445.80 325.04 L446.29 325.62 L446.78 326.31 L447.27 327.07 L447.76 327.88 L448.25 328.74 L448.74 329.61 L449.22 330.48 L449.71 331.32 L450.20 332.12 L450.69 332.95 L451.18 333.80 L451.67 334.68 L452.16 335.58 L452.65 336.49 L453.14 337.40 L453.63 338.32 L454.12 339.24 L454.61 340.15 L455.10 341.05 L455.59 341.93 L456.08 342.78 L456.57 343.61 L457.06 344.41 L457.55 345.20 L458.04 346.00 L458.53 346.81 L459.02 347.60 L459.51 348.38 L460.00 349.14 L460.48 349.86 L460.97 350.54 L461.46 351.17 L461.95 351.74 L462.44 352.24 L462.93 352.68 L463.42 353.09 L463.91 353.46 L464.40 353.76 L464.89 354.01 L465.38 354.19 L465.87 354.27 L466.36 354.27 L466.85 354.19 L467.34 354.06 L467.83 353.88 L468.32 353.66 L468.81 353.43 L469.30 353.18 L469.79 352.93 L470.28 352.64 L470.77 352.31 L471.26 351.94 L471.75 351.54 L472.23 351.12 L472.72 350.69 L473.21 350.25 L473.70 349.82 L474.19 349.39 L474.68 348.99 L475.17 348.61 L475.66 348.24 L476.15 347.86 L476.64 347.48 L477.13 347.10 L477.62 346.73 L478.11 346.36 L478.60 346.00 L479.09 345.65 L479.58 345.31 L480.07 344.99 L480.56 344.70 L481.05 344.43 L481.54 344.18 L482.03 343.95 L482.52 343.72 L483.01 343.52 L483.50 343.33 L483.98 343.16 L484.47 343.01 L484.96 342.89 L485.45 342.80 L485.94 342.74 L486.43 342.72 L486.92 342.73 L487.41 342.77 L487.90 342.83 L488.39 342.92 L488.88 343.03 L489.37 343.15 L489.86 343.29 L490.35 343.43 L490.84 343.58 L491.33 343.72 L491.82 343.87 L492.31 344.02 L492.80 344.20 L493.29 344.40 L493.78 344.62 L494.27 344.85 L494.76 345.09 L495.25 345.33 L495.73 345.57 L496.22 345.80 L496.71 346.03 L497.20 346.25 L497.69 346.45 L498.18 346.62 L498.67 346.78 L499.16 346.91 L499.65 347.02 L500.14 347.13 L500.63 347.23 L501.12 347.32 L501.61 347.40 L502.10 347.46 L502.59 347.51 L503.08 347.54 L503.57 347.56 L504.06 347.55 L504.55 347.52 L505.04 347.47 L505.53 347.40 L506.02 347.31 L506.51 347.21 L506.99 347.09 L507.48 346.97 L507.97 346.83 L508.46 346.70 L508.95 346.56 L509.44 346.42 L509.93 346.29 L510.42 346.16 L510.91 346.04 L511.40 345.91 L511.89 345.78 L512.38 345.65 L512.87 345.51 L513.36 345.36 L513.85 345.22 L514.34 345.07 L514.83 344.92 L515.32 344.77 L515.81 344.62 L516.30 344.47 L516.79 344.33 L517.28 344.18 L517.77 344.04 L518.26 343.90 L518.74 343.77 L519.23 343.65 L519.72 343.53 L520.21 343.41 L520.70 343.31 L521.19 343.20 L521.68 343.10 L522.17 343.00 L522.66 342.91 L523.15 342.82 L523.64 342.74 L524.13 342.66 L524.62 342.58 L525.11 342.50 L525.60 342.43 L526.09 342.36 L526.58 342.29 L527.07 342.23 L527.56 342.17 L528.05 342.11 L528.54 342.05 L529.03 342.00 L529.52 341.94 L530.01 341.89 L530.49 341.84 L530.98 341.79 L531.47 341.75 L531.96 341.70 L532.45 341.66 L532.94 341.61 L533.43 341.57 L533.92 341.53 L534.41 341.49 L534.90 341.45 L535.39 341.41 L535.88 341.37 L536.37 341.32 L536.86 341.28 L537.35 341.24 L537.84 341.20 L538.33 341.16 L538.82 341.12 L539.31 341.07 L539.80 341.03 L540.29 340.98 L540.78 340.94 L541.27 340.89 L541.76 340.85 L542.24 340.80 L542.73 340.76 L543.22 340.72 L543.71 340.68 L544.20 340.64 L544.69 340.61 L545.18 340.57 L545.67 340.53 L546.16 340.50 L546.65 340.47 L547.14 340.43 L547.63 340.40 L548.12 340.37 L548.61 340.34 L549.10 340.31 L549.59 340.28 L550.08 340.25 L550.57 340.22 L551.06 340.19 L551.55 340.16 L552.04 340.13 L552.53 340.11 L553.02 340.08 L553.51 340.05 L553.99 340.02 L554.48 339.99 L554.97 339.96 L555.46 339.93 L555.95 339.90 L556.44 339.86 L556.93 339.83 L557.42 339.80 L557.91 339.77 L558.40 339.73 L558.89 339.70 L559.38 339.66 L559.87 339.62 L560.36 339.58 L560.85 339.54 L561.34 339.50 L561.83 339.46 L562.32 339.41 L562.81 339.37 L563.30 339.32 L563.79 339.28 L564.28 339.23 L564.77 339.18 L565.25 339.13 L565.74 339.08 L566.23 339.03 L566.72 338.97 L567.21 338.92 L567.70 338.87 L568.19 338.81 L568.68 338.76 L569.17 338.71 L569.66 338.65 L570.15 338.60 L570.64 338.54 L571.13 338.48 L571.62 338.43 L572.11 338.37 L572.60 338.32 L573.09 338.26 L573.58 338.21 L574.07 338.15 L574.56 338.09 L575.05 338.04 L575.54 337.98 L576.03 337.93 L576.52 337.88 L577.00 337.82 L577.49 337.77 L577.98 337.72 L578.47 337.67 L578.96 337.62 L579.45 337.57 L579.94 337.52 L580.43 337.47 L580.92 337.42 L581.41 337.38 L581.90 337.33 L582.39 337.29 L582.88 337.24 L583.37 337.20 L583.86 337.16 L584.35 337.12 L584.84 337.08 L585.33 337.04 L585.82 337.00 L586.31 336.96 L586.80 336.93 L587.29 336.89 L587.78 336.85 L588.27 336.82 L588.75 336.78 L589.24 336.75 L589.73 336.71 L590.22 336.68 L590.71 336.64 L591.20 336.61 L591.69 336.58 L592.18 336.55 L592.67 336.51 L593.16 336.48 L593.65 336.45 L594.14 336.42 L594.63 336.38 L595.12 336.35 L595.61 336.32 L596.10 336.29 L596.59 336.26 L597.08 336.23 L597.57 336.20 L598.06 336.16 L598.55 336.13 L599.04 336.10 L599.53 336.07 L600.02 336.04 L600.50 336.00 L600.99 335.97 L601.48 335.94 L601.97 335.91 L602.46 335.87 L602.95 335.84 L603.44 335.80 L603.93 335.77 L604.42 335.74 L604.91 335.70 L605.40 335.66 L605.89 335.63 L606.38 335.59 L606.87 335.56 L607.36 335.52 L607.85 335.49 L608.34 335.45 L608.83 335.41 L609.32 335.38 L609.81 335.34 L610.30 335.30 L610.79 335.27 L611.28 335.23 L611.76 335.19 L612.25 335.16 L612.74 335.12 L613.23 335.09 L613.72 335.05 L614.21 335.01 L614.70 334.98 L615.19 334.94 L615.68 334.91 L616.17 334.87 L616.66 334.84 L617.15 334.80 L617.64 334.77 L618.13 334.73 L618.62 334.70 L619.11 334.67 L619.60 334.63 L620.09 334.60 L620.58 334.57 L621.07 334.54 L621.56 334.50 L622.05 334.47 L622.54 334.44 L623.03 334.41 L623.51 334.38 L624.00 334.35 L624.49 334.33 L624.98 334.30 L625.47 334.27 L625.96 334.25 L626.45 334.22 L626.94 334.19 L627.43 334.17 L627.92 334.15 L628.41 334.12 L628.90 334.10 L629.39 334.08 L629.88 334.05 L630.37 334.03 L630.86 334.01 L631.35 333.99 L631.84 333.97 L632.33 333.95 L632.82 333.93 L633.31 333.91 L633.80 333.89 L634.29 333.87 L634.78 333.85 L635.26 333.83 L635.75 333.81 L636.24 333.79 L636.73 333.78 L637.22 333.76 L637.71 333.74 L638.20 333.72 L638.69 333.71 L639.18 333.69 L639.67 333.67 L640.16 333.66 L640.65 333.64 L641.14 333.62 L641.63 333.61 L642.12 333.59 L642.61 333.57 L643.10 333.56 L643.59 333.54 L644.08 333.52 L644.57 333.51 L645.06 333.49 L645.55 333.47 L646.04 333.46 L646.53 333.44 L647.01 333.42 L647.50 333.41 L647.99 333.39 L648.48 333.37 L648.97 333.35 L649.46 333.34 L649.95 333.32 L650.44 333.30 L650.93 333.28 L651.42 333.26 L651.91 333.24 L652.40 333.22" stroke="#000" stroke-width="3.4" stroke-dasharray="3.3 2.25"/>
<path d="M443.41 304.50 L443.41 304.25 L443.42 304.00 L443.42 303.75 L443.43 303.50 L443.43 303.25 L443.43 303.00 L443.44 302.75 L443.44 302.50 L443.45 302.25 L443.45 302.00 L443.46 301.75 L443.46 301.50 L443.46 301.25 L443.47 301.00 L443.47 300.75 L443.48 300.50 L443.48 300.25 L443.49 300.00 L443.49 299.75 L443.49 299.50 L443.50 299.25 L443.50 299.00 L443.51 298.75 L443.51 298.50 L443.52 298.25 L443.52 298.00 L443.52 297.75 L443.53 297.50 L443.53 297.25 L443.54 297.00 L443.54 296.75 L443.55 296.50 L443.55 296.25 L443.55 296.00 L443.56 295.75 L443.56 295.50 L443.57 295.25 L443.57 295.00 L443.58 294.75 L443.58 294.50 L443.58 294.25 L443.59 294.00 L443.59 293.75 L443.60 293.50 L443.60 293.25 L443.61 293.00 L443.61 292.75 L443.61 292.50 L443.62 292.25 L443.62 292.00 M443.86 278.25 L443.86 278.00 L443.87 277.75 L443.87 277.50 L443.88 277.25 L443.88 277.00 L443.88 276.75 L443.89 276.50 L443.89 276.25 L443.90 276.00 L443.90 275.75 L443.91 275.50 L443.91 275.25 L443.91 275.00 L443.92 274.75 L443.92 274.50 L443.93 274.25 L443.93 274.00 L443.94 273.75 L443.94 273.50 L443.94 273.25 L443.95 273.00 L443.95 272.75 L443.96 272.50 L443.96 272.25 L443.97 272.00 L443.97 271.75 L443.97 271.50 L443.98 271.25 L443.98 271.00 L443.99 270.75 L443.99 270.50 L444.00 270.25 L444.00 270.00 L444.01 269.75 L444.01 269.50 L444.02 269.25 L444.03 269.00 L444.03 268.75 L444.04 268.50 L444.05 268.25 L444.05 268.00 L444.06 267.75 L444.07 267.50 L444.07 267.25 L444.08 267.00 L444.09 266.75 L444.09 266.50 L444.10 266.25 L444.11 266.00 L444.11 265.75 L444.12 265.50 L444.13 265.25 L444.13 265.00 M444.50 251.25 L444.51 251.00 L444.51 250.75 L444.52 250.50 L444.53 250.25 L444.53 250.00 L444.54 249.75 L444.55 249.50 L444.55 249.25 L444.56 249.00 L444.57 248.75 L444.57 248.50 L444.58 248.25 L444.59 248.00 L444.59 247.75 L444.60 247.50 L444.61 247.25 L444.61 247.00 L444.62 246.75 L444.63 246.50 L444.63 246.25 L444.64 246.00 L444.65 245.75 L444.65 245.50 L444.66 245.25 L444.67 245.00 L444.67 244.75 L444.68 244.50 L444.69 244.25 L444.69 244.00 L444.70 243.75 L444.71 243.50 L444.71 243.25 L444.72 243.00 L444.73 242.75 L444.73 242.50 L444.74 242.25 L444.75 242.00 L444.75 241.75 L444.76 241.50 L444.77 241.25 L444.77 241.00 L444.78 240.75 L444.79 240.50 L444.79 240.25 L444.80 240.00 L444.82 239.75 L444.85 239.50 L444.87 239.25 L444.89 239.00 L444.92 238.75 L444.94 238.50 L444.96 238.25 L444.99 238.00 L445.01 237.75 M446.21 225.00 L446.23 224.75 L446.25 224.50 L446.28 224.25 L446.30 224.00 L446.36 223.75 L446.41 223.50 L446.47 223.26 L446.53 223.01 L446.58 222.76 L446.64 222.51 L446.70 222.27 L446.75 222.02 L446.81 221.77 L446.87 221.52 L446.92 221.27 L446.98 221.03 L447.03 220.78 L447.09 220.53 L447.15 220.28 L447.20 220.03 L447.26 219.79 L447.32 219.54 L447.37 219.29 L447.43 219.04 L447.49 218.80 L447.54 218.55 L447.60 218.30 L447.69 218.53 L447.79 218.77 L447.88 219.00 L447.98 219.23 L448.07 219.47 L448.17 219.70 L448.26 219.93 L448.36 220.17 L448.45 220.40 L448.54 220.63 L448.64 220.87 L448.73 221.10 L448.83 221.33 L448.92 221.57 L449.02 221.80 L449.11 222.03 L449.21 222.27 L449.30 222.50 L449.40 222.73 L449.51 222.96 L449.61 223.19 L449.72 223.42 L449.82 223.65 L449.93 223.88 L450.03 224.11 L450.14 224.35 L450.24 224.58 L450.35 224.81 L450.45 225.04 M455.80 236.80 L455.99 236.97 L456.17 237.13 L456.36 237.30 L456.55 237.47 L456.74 237.64 L456.92 237.80 L457.11 237.97 L457.30 238.14 L457.49 238.31 L457.67 238.47 L457.86 238.64 L458.05 238.81 L458.23 238.97 L458.42 239.14 L458.61 239.31 L458.80 239.48 L458.98 239.64 L459.17 239.81 L459.36 239.98 L459.55 240.15 L459.73 240.31 L459.92 240.48 L460.11 240.65 L460.29 240.81 L460.48 240.98 L460.67 241.15 L460.86 241.32 L461.04 241.48 L461.23 241.65 L461.42 241.82 L461.61 241.99 L461.79 242.15 L461.98 242.32 L462.17 242.49 L462.35 242.65 L462.54 242.82 L462.73 242.99 L462.92 243.16 L463.10 243.32 L463.29 243.49 L463.48 243.66 L463.67 243.83 L463.85 243.99 L464.04 244.16 L464.23 244.33 L464.41 244.49 L464.60 244.66 L464.79 244.83 L464.98 245.00 L465.16 245.16 L465.35 245.33 L465.54 245.50 L465.73 245.67 L465.91 245.83 L466.10 246.00 M474.90 255.30 L475.08 255.48 L475.26 255.66 L475.44 255.84 L475.62 256.02 L475.80 256.20 L475.98 256.38 L476.16 256.56 L476.34 256.74 L476.52 256.92 L476.70 257.10 L476.88 257.28 L477.06 257.46 L477.24 257.64 L477.41 257.81 L477.59 257.99 L477.77 258.17 L477.95 258.35 L478.13 258.53 L478.31 258.71 L478.49 258.89 L478.67 259.07 L478.85 259.25 L479.03 259.43 L479.21 259.61 L479.39 259.79 L479.57 259.97 L479.75 260.15 L479.93 260.33 L480.11 260.51 L480.29 260.69 L480.47 260.87 L480.65 261.05 L480.83 261.23 L481.01 261.41 L481.19 261.59 L481.37 261.77 L481.55 261.95 L481.73 262.13 L481.91 262.31 L482.09 262.49 L482.26 262.66 L482.44 262.84 L482.62 263.02 L482.80 263.20 L482.98 263.38 L483.16 263.56 L483.34 263.74 L483.52 263.92 L483.70 264.10 L483.88 264.28 L484.06 264.46 L484.24 264.64 L484.42 264.82 L484.60 265.00 M494.80 273.80 L494.99 273.96 L495.19 274.11 L495.38 274.27 L495.58 274.43 L495.77 274.59 L495.97 274.74 L496.16 274.90 L496.36 275.06 L496.55 275.21 L496.75 275.37 L496.94 275.53 L497.14 275.69 L497.33 275.84 L497.52 276.00 L497.72 276.16 L497.91 276.31 L498.11 276.47 L498.30 276.63 L498.50 276.79 L498.69 276.94 L498.89 277.10 L499.08 277.26 L499.28 277.41 L499.47 277.57 L499.67 277.73 L499.86 277.89 L500.06 278.04 L500.25 278.20 L500.44 278.36 L500.64 278.51 L500.83 278.67 L501.03 278.83 L501.22 278.99 L501.42 279.14 L501.61 279.30 L501.81 279.46 L502.00 279.61 L502.20 279.77 L502.39 279.93 L502.59 280.09 L502.78 280.24 L502.98 280.40 L503.17 280.56 L503.36 280.71 L503.56 280.87 L503.75 281.03 L503.95 281.19 L504.14 281.34 L504.34 281.50 L504.53 281.66 L504.73 281.81 L504.92 281.97 L505.12 282.13 L505.31 282.29 L505.51 282.44 L505.70 282.60 M516.00 289.20 L516.22 289.33 L516.43 289.46 L516.65 289.60 L516.87 289.73 L517.08 289.86 L517.30 289.99 L517.52 290.12 L517.74 290.26 L517.95 290.39 L518.17 290.52 L518.39 290.65 L518.60 290.78 L518.82 290.92 L519.04 291.05 L519.25 291.18 L519.47 291.31 L519.69 291.45 L519.91 291.58 L520.12 291.71 L520.34 291.84 L520.56 291.97 L520.77 292.11 L520.99 292.24 L521.21 292.37 L521.42 292.50 L521.64 292.63 L521.86 292.77 L522.08 292.90 L522.29 293.03 L522.51 293.16 L522.73 293.29 L522.94 293.43 L523.16 293.56 L523.38 293.69 L523.59 293.82 L523.81 293.95 L524.03 294.09 L524.25 294.22 L524.46 294.35 L524.68 294.48 L524.90 294.62 L525.11 294.75 L525.33 294.88 L525.55 295.01 L525.76 295.14 L525.98 295.28 L526.20 295.41 L526.42 295.54 L526.63 295.67 L526.85 295.80 L527.07 295.94 L527.28 296.07 L527.50 296.20 L527.71 296.34 M538.50 303.60 L538.72 303.73 L538.94 303.85 L539.16 303.98 L539.38 304.10 L539.60 304.23 L539.82 304.36 L540.04 304.48 L540.26 304.61 L540.48 304.73 L540.70 304.86 L540.92 304.99 L541.14 305.11 L541.36 305.24 L541.59 305.36 L541.81 305.49 L542.03 305.61 L542.25 305.74 L542.47 305.87 L542.69 305.99 L542.91 306.12 L543.13 306.24 L543.35 306.37 L543.57 306.50 L543.79 306.62 L544.01 306.75 L544.23 306.87 L544.45 307.00 L544.67 307.13 L544.89 307.25 L545.11 307.38 L545.33 307.50 L545.55 307.63 L545.77 307.76 L545.99 307.88 L546.21 308.01 L546.43 308.13 L546.65 308.26 L546.87 308.39 L547.09 308.51 L547.31 308.64 L547.54 308.76 L547.76 308.89 L547.98 309.01 L548.20 309.14 L548.42 309.27 L548.64 309.39 L548.86 309.52 L549.08 309.64 L549.30 309.77 L549.52 309.90 L549.74 310.02 L549.96 310.15 L550.18 310.27 L550.40 310.40 M562.70 316.50 L562.94 316.59 L563.17 316.68 L563.41 316.77 L563.64 316.86 L563.88 316.95 L564.12 317.04 L564.35 317.13 L564.59 317.22 L564.82 317.31 L565.06 317.40 L565.30 317.49 L565.53 317.58 L565.77 317.67 L566.00 317.76 L566.24 317.85 L566.48 317.94 L566.71 318.03 L566.95 318.12 L567.18 318.21 L567.42 318.30 L567.66 318.39 L567.89 318.48 L568.13 318.57 L568.36 318.66 L568.60 318.75 L568.84 318.84 L569.07 318.93 L569.31 319.02 L569.54 319.11 L569.78 319.20 L570.02 319.29 L570.25 319.38 L570.49 319.47 L570.72 319.56 L570.96 319.65 L571.20 319.74 L571.43 319.83 L571.67 319.92 L571.90 320.01 L572.14 320.10 L572.38 320.19 L572.61 320.28 L572.85 320.37 L573.08 320.46 L573.32 320.55 L573.56 320.64 L573.79 320.73 L574.03 320.82 L574.26 320.91 L574.50 321.00 M586.70 325.60 L586.94 325.68 L587.18 325.76 L587.42 325.84 L587.66 325.92 L587.90 326.00 L588.14 326.08 L588.39 326.16 L588.63 326.24 L588.87 326.32 L589.11 326.40 L589.35 326.48 L589.59 326.56 L589.83 326.64 L590.07 326.71 L590.31 326.79 L590.55 326.87 L590.79 326.95 L591.03 327.03 L591.27 327.11 L591.51 327.19 L591.76 327.27 L592.00 327.35 L592.24 327.43 L592.48 327.51 L592.72 327.59 L592.96 327.67 L593.20 327.75 L593.44 327.83 L593.68 327.91 L593.92 327.99 L594.16 328.07 L594.40 328.15 L594.64 328.23 L594.89 328.31 L595.13 328.39 L595.37 328.47 L595.61 328.55 L595.85 328.63 L596.09 328.71 L596.33 328.79 L596.57 328.86 L596.81 328.94 L597.05 329.02 L597.29 329.10 L597.53 329.18 L597.77 329.26 L598.01 329.34 L598.26 329.42 L598.50 329.50 L598.74 329.58 L598.98 329.66 L599.22 329.74 L599.46 329.82 L599.70 329.90 M613.40 333.40 L613.64 333.46 L613.89 333.51 L614.13 333.57 L614.37 333.63 L614.62 333.68 L614.86 333.74 L615.11 333.79 L615.35 333.85 L615.59 333.91 L615.84 333.96 L616.08 334.02 L616.32 334.08 L616.57 334.13 L616.81 334.19 L617.05 334.25 L617.30 334.30 L617.54 334.36 L617.79 334.41 L618.03 334.47 L618.27 334.53 L618.52 334.58 L618.76 334.64 L619.00 334.70 L619.25 334.75 L619.49 334.81 L619.73 334.87 L619.98 334.92 L620.22 334.98 L620.47 335.03 L620.71 335.09 L620.95 335.15 L621.20 335.20 L621.44 335.26 L621.68 335.32 L621.93 335.37 L622.17 335.43 L622.41 335.49 L622.66 335.54 L622.90 335.60 L623.15 335.65 L623.39 335.71 L623.63 335.77 L623.88 335.82 L624.12 335.88 L624.36 335.94 L624.61 335.99 L624.85 336.05 L625.09 336.11 L625.34 336.16 L625.58 336.22 L625.83 336.27 L626.07 336.33 L626.31 336.39 L626.56 336.44 L626.80 336.50 M640.10 338.10 L640.35 338.13 L640.60 338.16 L640.85 338.19 L641.10 338.21 L641.36 338.24 L641.61 338.27 L641.86 338.30 L642.11 338.33 L642.36 338.36 L642.61 338.39 L642.86 338.41 L643.11 338.44 L643.36 338.47 L643.61 338.50 L643.87 338.53 L644.12 338.56 L644.37 338.59 L644.62 338.61 L644.87 338.64 L645.12 338.67 L645.37 338.70 L645.62 338.73 L645.87 338.76 L646.12 338.79 L646.38 338.81 L646.63 338.84 L646.88 338.87 L647.13 338.90 L647.38 338.93 L647.63 338.96 L647.88 338.99 L648.13 339.01 L648.38 339.04 L648.63 339.07 L648.89 339.10 L649.14 339.13 L649.39 339.16 L649.64 339.19 L649.89 339.21 L650.14 339.24 L650.39 339.27 L650.64 339.30 L650.89 339.33 L651.14 339.36 L651.40 339.39 L651.65 339.41 L651.90 339.44 L652.15 339.47 L652.40 339.50" stroke="#0000ff" stroke-width="3.7"/>
<path d="M408.10 322.57 L443.00 322.57 L443.35 311.76 L443.35 311.76 L444.40 311.68 L445.45 311.62 L446.50 311.65 L447.55 311.78 L448.60 311.96 L449.65 312.15 L450.70 312.32 L451.75 312.49 L452.80 312.68 L453.85 312.88 L454.90 313.08 L455.96 313.29 L457.01 313.50 L458.06 313.72 L459.11 313.93 L460.16 314.14 L461.21 314.35 L462.26 314.55 L463.31 314.74 L464.36 314.92 L465.41 315.10 L466.46 315.27 L467.51 315.44 L468.56 315.61 L469.61 315.78 L470.66 315.94 L471.71 316.10 L472.76 316.25 L473.81 316.41 L474.86 316.56 L475.91 316.70 L476.97 316.85 L478.02 316.99 L479.07 317.13 L480.12 317.26 L481.17 317.39 L482.22 317.52 L483.27 317.65 L484.32 317.77 L485.37 317.89 L486.42 318.00 L487.47 318.11 L488.52 318.21 L489.57 318.31 L490.62 318.41 L491.67 318.51 L492.72 318.60 L493.77 318.69 L494.82 318.78 L495.87 318.86 L496.92 318.94 L497.98 319.02 L499.03 319.10 L500.08 319.18 L501.13 319.25 L502.18 319.32 L503.23 319.39 L504.28 319.46 L505.33 319.53 L506.38 319.60 L507.43 319.66 L508.48 319.73 L509.53 319.79 L510.58 319.86 L511.63 319.92 L512.68 319.99 L513.73 320.05 L514.78 320.11 L515.83 320.17 L516.88 320.23 L517.94 320.28 L518.99 320.33 L520.04 320.38 L521.09 320.43 L522.14 320.48 L523.19 320.53 L524.24 320.57 L525.29 320.61 L526.34 320.65 L527.39 320.69 L528.44 320.73 L529.49 320.77 L530.54 320.80 L531.59 320.84 L532.64 320.87 L533.69 320.91 L534.74 320.94 L535.79 320.97 L536.84 321.00 L537.89 321.03 L538.95 321.07 L540.00 321.10 L541.05 321.13 L542.10 321.16 L543.15 321.19 L544.20 321.22 L545.25 321.25 L546.30 321.28 L547.35 321.31 L548.40 321.34 L549.45 321.37 L550.50 321.40 L551.55 321.43 L552.60 321.45 L553.65 321.48 L554.70 321.51 L555.75 321.54 L556.80 321.56 L557.85 321.59 L558.90 321.61 L559.96 321.63 L561.01 321.66 L562.06 321.68 L563.11 321.70 L564.16 321.72 L565.21 321.75 L566.26 321.77 L567.31 321.79 L568.36 321.81 L569.41 321.83 L570.46 321.85 L571.51 321.87 L572.56 321.89 L573.61 321.90 L574.66 321.92 L575.71 321.94 L576.76 321.96 L577.81 321.98 L578.86 321.99 L579.91 322.01 L580.97 322.03 L582.02 322.04 L583.07 322.06 L584.12 322.08 L585.17 322.09 L586.22 322.11 L587.27 322.12 L588.32 322.14 L589.37 322.15 L590.42 322.16 L591.47 322.18 L592.52 322.19 L593.57 322.20 L594.62 322.22 L595.67 322.23 L596.72 322.24 L597.77 322.25 L598.82 322.26 L599.87 322.27 L600.93 322.28 L601.98 322.29 L603.03 322.30 L604.08 322.31 L605.13 322.32 L606.18 322.33 L607.23 322.34 L608.28 322.35 L609.33 322.36 L610.38 322.37 L611.43 322.37 L612.48 322.38 L613.53 322.39 L614.58 322.40 L615.63 322.41 L616.68 322.41 L617.73 322.42 L618.78 322.43 L619.83 322.44 L620.88 322.44 L621.94 322.45 L622.99 322.46 L624.04 322.46 L625.09 322.47 L626.14 322.47 L627.19 322.48 L628.24 322.48 L629.29 322.49 L630.34 322.49 L631.39 322.49 L632.44 322.50 L633.49 322.50 L634.54 322.51 L635.59 322.51 L636.64 322.51 L637.69 322.52 L638.74 322.52 L639.79 322.52 L640.84 322.53 L641.89 322.53 L642.95 322.53 L644.00 322.54 L645.05 322.54 L646.10 322.54 L647.15 322.55 L648.20 322.55 L649.25 322.56 L650.30 322.56 L651.35 322.56 L652.40 322.57" stroke="#ff0000" stroke-width="3.9" stroke-linejoin="miter"/>
</g>
<g font-family="Liberation Serif, serif" font-weight="bold" fill="#2a2a2a" stroke="#2a2a2a" stroke-width="0.25" font-size="14.3">
<text x="443.0" y="378.0" text-anchor="middle">75</text>
<text x="512.8" y="378.0" text-anchor="middle">76</text>
<text x="582.6" y="378.0" text-anchor="middle">77</text>
<text x="652.4" y="378.0" text-anchor="middle">78</text>
<text x="402.2" y="217.0" text-anchor="end">15</text>
<text x="402.2" y="253.9" text-anchor="end">10</text>
<text x="402.2" y="290.7" text-anchor="end">5</text>
<text x="402.2" y="327.6" text-anchor="end">0</text>
<text x="402.2" y="364.4" text-anchor="end">-5</text>
</g>
<text font-family="Liberation Serif, serif" fill="#2a2a2a" font-size="22" x="407.7" y="211.9">×</text>
<text font-family="Liberation Serif, serif" fill="#2a2a2a" font-weight="bold" font-size="14.2" x="421.6" y="208.4" letter-spacing="0.3">10</text>
<text font-family="Liberation Serif, serif" fill="#2a2a2a" font-weight="bold" font-size="11.5" x="436.3" y="201.3">-4</text>
</svg>
</body></html>
